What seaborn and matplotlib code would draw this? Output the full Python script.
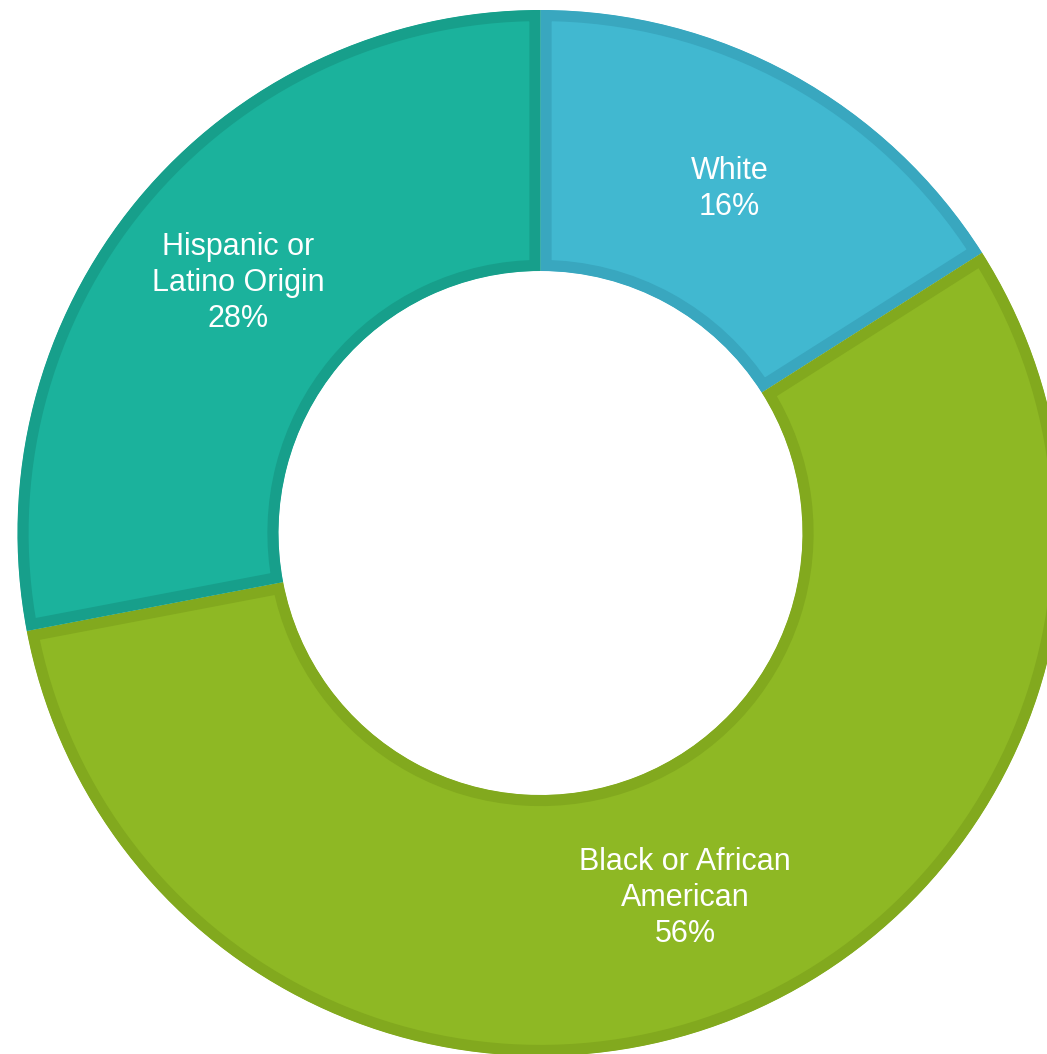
import matplotlib
matplotlib.use("Agg")
import matplotlib.pyplot as plt
import numpy as np
import seaborn as sns

# Share of population by race / ethnicity
categories = ["White", "Black or African\nAmerican", "Hispanic or\nLatino Origin"]
shares = [16, 56, 28]
fill_colors = ["#41B8D0", "#8EB824", "#1BB29C"]
edge_colors = ["#39A7BF", "#82A91E", "#179F8B"]

sns.set_theme(style="white")
plt.rcParams["font.family"] = ["Liberation Sans", "DejaVu Sans"]

W, H = 1047, 1054
fig = plt.figure(figsize=(W / 100, H / 100), dpi=100)
ax = fig.add_axes([0, 0, 1, 1])

cx, cy = 540.5, H - 533
r_out, r_in = 523, 262

wedges, _ = ax.pie(
    shares,
    colors=fill_colors,
    startangle=90,
    counterclock=False,
    center=(cx, cy),
    radius=r_out,
    wedgeprops=dict(width=r_out - r_in, linewidth=16),
)

ax.set_xlim(0, W)
ax.set_ylim(0, H)
ax.set_aspect("equal")

# keep each outline on the inside of its own wedge
for w, ec in zip(wedges, edge_colors):
    w.set_edgecolor(ec)
    w.set_clip_on(True)
    w.set_clip_path(w)

r_lab = (r_out + r_in) / 2
for w, name, val in zip(wedges, categories, shares):
    mid = np.deg2rad((w.theta1 + w.theta2) / 2)
    x = cx + r_lab * np.cos(mid)
    y = cy + r_lab * np.sin(mid)
    ax.text(x, y, f"{name}\n{val}%", ha="center", va="center",
            color="white", fontsize=22, linespacing=1.25)

ax.axis("off")

fig.savefig("out.png", dpi=100, facecolor="white")
